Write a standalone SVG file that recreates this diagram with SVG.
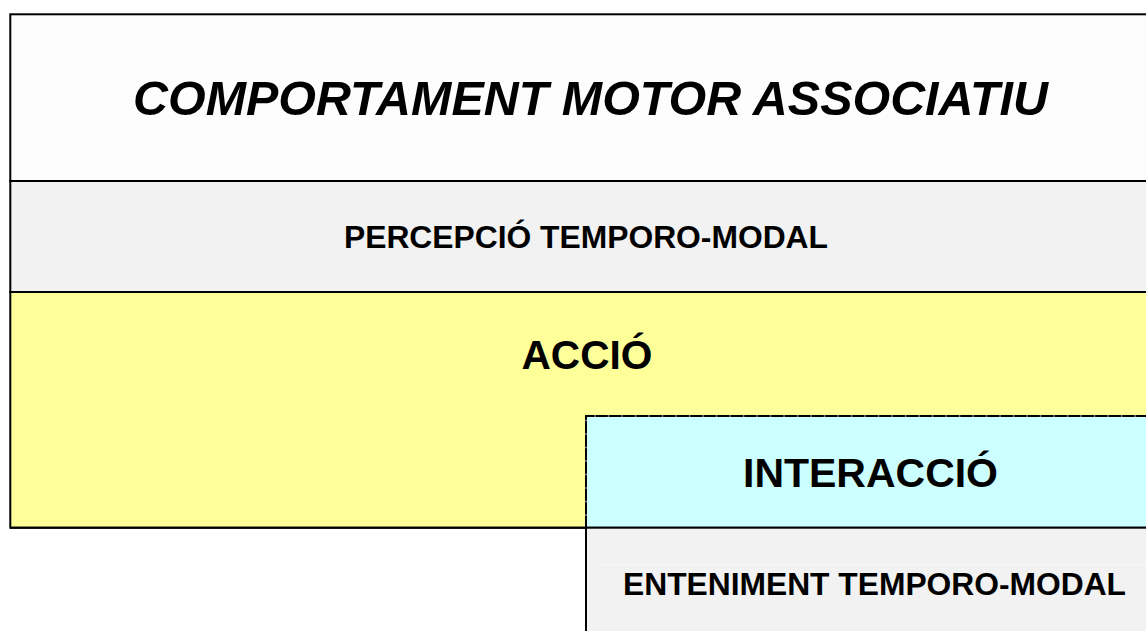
<svg xmlns="http://www.w3.org/2000/svg" width="1146" height="631" viewBox="0 0 1146 631">
<style>
.box{stroke:#000;stroke-width:2}
.t{font-family:"Liberation Sans",Arial,sans-serif;font-weight:bold;fill:#000;text-anchor:middle}
</style>
<rect x="0" y="0" width="1146" height="631" fill="#fff"/>
<g id="comportament">
<rect class="box" x="10.3" y="14.3" width="1150" height="166.7" fill="#fdfdfd"/>
<text class="t" x="590.5" y="114.5" font-size="49" font-style="italic" textLength="915" lengthAdjust="spacingAndGlyphs">COMPORTAMENT MOTOR ASSOCIATIU</text>
</g>
<g id="percepcio">
<rect class="box" x="10.3" y="181" width="1150" height="111" fill="#f2f2f2"/>
<text class="t" x="586" y="247.5" font-size="31.5" textLength="484" lengthAdjust="spacingAndGlyphs">PERCEPCIÓ TEMPORO-MODAL</text>
</g>
<g id="accio">
<rect class="box" x="10.3" y="292" width="1150" height="235.7" fill="#ffff99"/>
<text class="t" x="587" y="369" font-size="40.5" textLength="131" lengthAdjust="spacingAndGlyphs">ACCIÓ</text>
</g>
<g id="interaccio">
<rect x="586" y="416" width="570" height="111.7" fill="#ccffff"/>
<path d="M586 527.7V416H1150" fill="none" stroke="#777" stroke-width="2"/>
<path d="M586 527.7V416H1150" fill="none" stroke="#000" stroke-width="2" stroke-dasharray="12 1.5"/>
<line x1="10" y1="527.7" x2="1150" y2="527.7" stroke="#000" stroke-width="2"/>
<text class="t" x="870.5" y="487" font-size="41.5" textLength="255" lengthAdjust="spacingAndGlyphs">INTERACCIÓ</text>
</g>
<g id="enteniment">
<rect class="box" x="586" y="527.7" width="570" height="110" fill="#f2f2f2"/>
<line x1="595" y1="565" x2="1146" y2="565" stroke="#f8f8f8" stroke-width="1"/>
<text class="t" x="874.5" y="594.5" font-size="32" textLength="503" lengthAdjust="spacingAndGlyphs">ENTENIMENT TEMPORO-MODAL</text>
</g>
<g id="connectors"/>
</svg>
